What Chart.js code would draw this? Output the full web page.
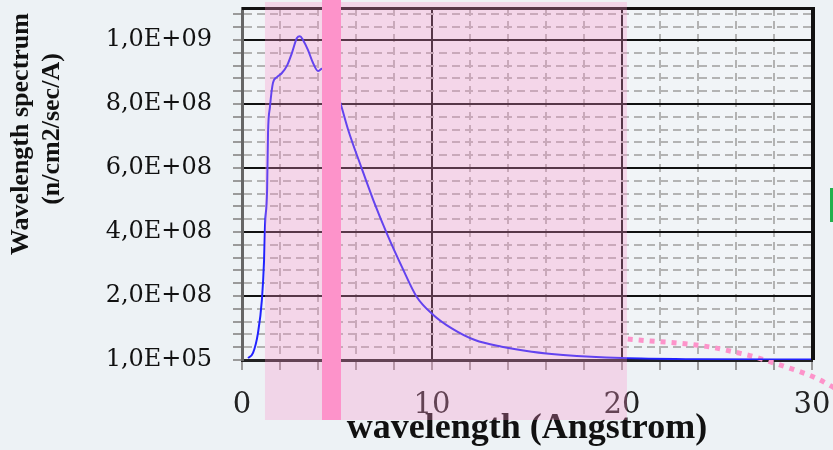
<!DOCTYPE html>
<html>
<head>
<meta charset="utf-8">
<style>
  html, body { margin: 0; padding: 0; background: #edf2f5; }
  #wrap { width: 833px; height: 450px; position: relative; }
</style>
<script src="https://cdn.jsdelivr.net/npm/chart.js@4.4.0/dist/chart.umd.min.js"></script>
</head>
<body>
<div id="wrap"><canvas id="spectrum" width="833" height="450"></canvas></div>
<script>
'use strict';

// ── Data ───────────────────────────────────────
const WAVELENGTH = [0.32, 0.58, 0.84, 1.05, 1.16, 1.21, 1.32, 1.37, 1.47, 1.63, 1.84, 2.1,
  2.37, 2.63, 2.89, 3.05, 3.21, 3.47, 3.74, 4.0, 4.21, 4.6, 5.0, 5.21, 5.59, 6.3, 6.91,
  7.62, 8.41, 9.19, 10.07, 11.04, 12.26, 13.67, 15.25, 16.9, 20.0, 24.0, 30.0];
const SPECTRUM = [6e6, 2.2e7, 8.4e7, 1.9e8, 3.1e8, 4.2e8, 5.3e8, 7.1e8, 7.9e8, 8.66e8, 8.84e8, 8.97e8,
  9.2e8, 9.6e8, 1.006e9, 1.012e9, 1.0e9, 9.69e8, 9.28e8, 9.03e8, 9.1e8, 8.8e8, 8.35e8, 7.97e8, 7.19e8, 5.99e8, 5.0e8,
  3.96e8, 2.92e8, 1.98e8, 1.41e8, 9.9e7, 6.25e7, 4.16e7, 2.6e7, 1.6e7, 6e6, 2.5e6, 1.5e6];

// dotted pink arc on the right (slide decoration)
const ARC_X = [20.3, 21.5, 22.6, 23.7, 24.8, 25.8, 27.0, 28.0, 29.1, 30.2, 31.2];
const ARC_Y = [6.56e7, 5.94e7, 5.47e7, 4.84e7, 3.9e7, 2.66e7, 9.4e6, -9.4e6, -3.1e7, -5.6e7, -8.75e7];

const X_MAJOR = [0, 10, 20, 30];
const Y_MAJOR = [1e5, 2e8, 4e8, 6e8, 8e8, 1e9];
const Y_MINOR_STEP = 4e7;

// shaded band and thick bar (x in angstrom)
const BAND = [1.21, 20.26];
const BAR  = [4.21, 5.21];

const PINK = '#fd93ca';

// ── Helpers ────────────────────────────────────
function sci(v) {
  const [m, e] = v.toExponential(1).split('e');
  const n = parseInt(e, 10);
  return m.replace('.', ',') + 'E' + (n < 0 ? '-' : '+') + String(Math.abs(n)).padStart(2, '0');
}

const isXMajor = v => X_MAJOR.includes(v);
const isYMajor = v => Y_MAJOR.includes(v);

// ── Decorations ────────────────────────────────
const deco = {
  id: 'deco',
  beforeDraw(chart) {
    const { ctx, chartArea: a } = chart;
    ctx.save();
    ctx.fillStyle = '#f1f4f7';
    ctx.fillRect(a.left, a.top, a.right - a.left, a.bottom - a.top);
    ctx.restore();
  },
  afterDatasetsDraw(chart) {
    const { ctx, chartArea: a } = chart;
    ctx.save();
    ctx.strokeStyle = '#111';
    ctx.lineWidth = 3;
    ctx.beginPath();
    ctx.moveTo(a.left, a.top + 0.5);
    ctx.lineTo(a.right, a.top + 0.5);
    ctx.stroke();
    ctx.lineWidth = 4;
    ctx.beginPath();
    ctx.moveTo(a.right + 1, a.top - 1);
    ctx.lineTo(a.right + 1, a.bottom);
    ctx.stroke();
    ctx.restore();
  },
  afterDraw(chart) {
    const { ctx, chartArea: a, scales: { x } } = chart;
    ctx.save();
    // translucent band
    const b0 = x.getPixelForValue(BAND[0]), b1 = x.getPixelForValue(BAND[1]);
    ctx.fillStyle = 'rgba(253,147,202,0.3)';
    ctx.fillRect(b0, a.top - 6, b1 - b0, a.bottom + 60 - (a.top - 6));
    // solid bar
    const r0 = x.getPixelForValue(BAR[0]), r1 = x.getPixelForValue(BAR[1]);
    ctx.fillStyle = PINK;
    ctx.fillRect(r0, 0, r1 - r0, a.bottom + 60);
    // green edge marker
    ctx.fillStyle = '#22b14c';
    ctx.fillRect(chart.width - 3, 188, 3, 34);

    // y title
    ctx.fillStyle = '#111';
    ctx.font = 'bold 26px "Liberation Serif"';
    ctx.textAlign = 'center';
    ctx.textBaseline = 'alphabetic';
    [['Wavelength spectrum', 28, 134], ['(n/cm2/sec/A)', 59, 129]].forEach(([t, tx, ty]) => {
      ctx.save();
      ctx.translate(tx, ty);
      ctx.rotate(-Math.PI / 2);
      ctx.fillText(t, 0, 0);
      ctx.restore();
    });
    ctx.restore();
  },
};

// ── Chart ──────────────────────────────────────
new Chart(document.getElementById('spectrum'), {
  type: 'line',
  data: {
    datasets: [
      {
        data: WAVELENGTH.map((w, i) => ({ x: w, y: SPECTRUM[i] })),
        borderColor: '#2222ff',
        borderWidth: 2,
        pointRadius: 0,
        cubicInterpolationMode: 'monotone',
      },
      {
        data: ARC_X.map((w, i) => ({ x: w, y: ARC_Y[i] })),
        borderColor: PINK,
        borderWidth: 5,
        borderDash: [5, 6],
        borderCapStyle: 'butt',
        pointRadius: 0,
        cubicInterpolationMode: 'monotone',
        capBezierPoints: false,
        clip: false,
      },
    ],
  },
  options: {
    responsive: false,
    animation: false,
    events: [],
    layout: { padding: { top: 8, right: 21, left: 0, bottom: 0 } },
    plugins: { legend: { display: false }, tooltip: { enabled: false } },
    scales: {
      x: {
        type: 'linear',
        // bounds set here (not as min/max) so the arc past 30 is still drawn
        afterDataLimits(s) { s.min = X_MAJOR[0]; s.max = X_MAJOR[X_MAJOR.length - 1]; },
        ticks: {
          stepSize: 2,
          autoSkip: false,
          maxRotation: 0,
          padding: 18,
          color: '#222',
          font: { family: 'DejaVu Serif', size: 29 },
          callback: v => (isXMajor(v) ? String(v) : ''),
        },
        grid: {
          color: c => (c.tick && isXMajor(c.tick.value) ? '#111' : '#b3b3b3'),
          lineWidth: 2,
          tickColor: '#9a9a9a',
          tickLength: 10,
          tickWidth: 2,
        },
        border: {
          color: '#222',
          width: 3,
          dash: c => (c.tick && !isXMajor(c.tick.value) ? [8, 5] : []),
        },
        title: {
          display: true,
          text: 'wavelength (Angstrom)',
          color: '#111',
          padding: 0,
          font: { family: 'Liberation Serif', weight: 'bold', size: 36 },
        },
        afterFit(s) { s.height = 90; s.paddingLeft = 0; s.paddingRight = 0; },
      },
      y: {
        min: 1e5,
        max: 1.1e9,
        afterBuildTicks(s) {
          const t = [{ value: Y_MAJOR[0] }];
          for (let v = Y_MINOR_STEP; v < s.max; v += Y_MINOR_STEP) t.push({ value: Math.round(v) });
          s.ticks = t;
        },
        ticks: {
          autoSkip: false,
          padding: 21,
          color: '#111',
          font: { family: 'DejaVu Serif', size: 24 },
          callback: v => (isYMajor(v) ? sci(v) : ''),
        },
        grid: {
          color: c => (c.tick && isYMajor(c.tick.value) ? '#111' : '#b3b3b3'),
          lineWidth: 2,
          tickColor: '#9a9a9a',
          tickLength: 9,
          tickWidth: 2,
        },
        border: {
          color: '#666',
          width: 3,
          dash: c => (c.tick && !isYMajor(c.tick.value) ? [8, 5] : []),
        },
        afterFit(s) { s.width = 242; s.paddingTop = 0; s.paddingBottom = 0; },
      },
    },
  },
  plugins: [deco],
});
</script>
</body>
</html>
